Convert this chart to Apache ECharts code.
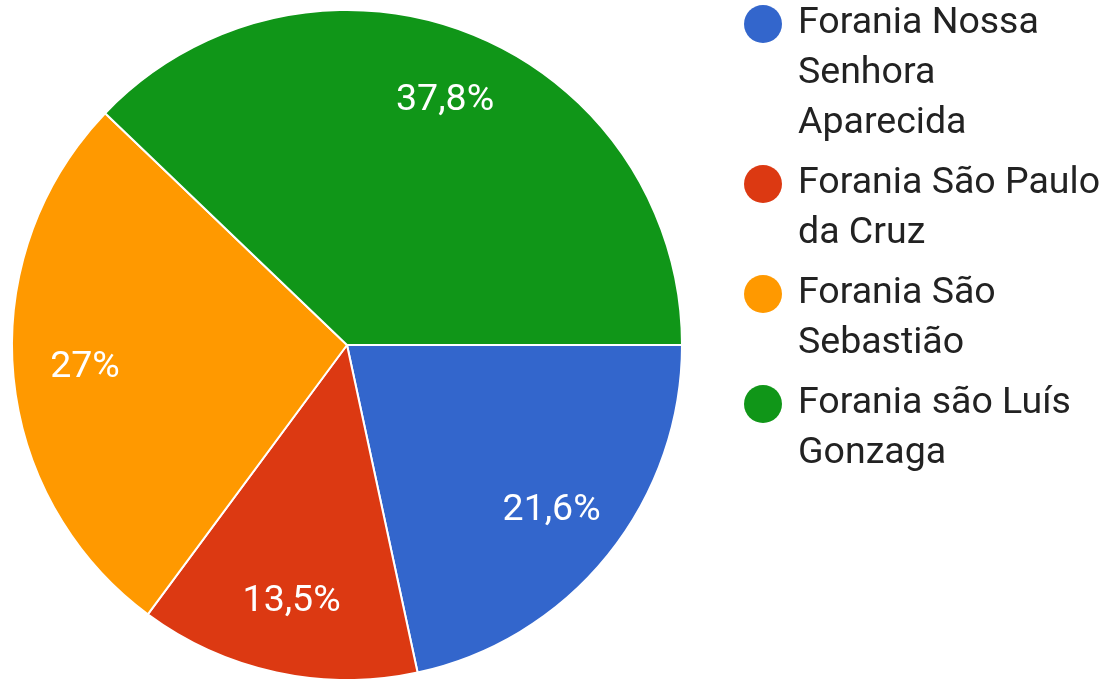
<!DOCTYPE html>
<html>
<head>
<meta charset="utf-8">
<script src="https://cdn.jsdelivr.net/npm/echarts@6/dist/echarts.min.js"></script>
<style>
html,body{margin:0;padding:0;background:#fff;}
#chart{width:1110px;height:679px;}
</style>
</head>
<body>
<div id="chart"></div>
<script>
var categories = ['Forania Nossa Senhora Aparecida', 'Forania São Paulo da Cruz', 'Forania São Sebastião', 'Forania são Luís Gonzaga'];
var percentValues = [21.6, 13.5, 27, 37.8];
var colors = ['#3366cc', '#dc3912', '#ff9900', '#109618'];

var LEGEND_FONT = 37.5;
var LABEL_FONT = 37.5;
var FONT = 'Roboto';

var ctx = document.createElement('canvas').getContext('2d');
ctx.font = LEGEND_FONT + 'px ' + FONT;
function wrap(text, maxW) {
  var words = text.split(' ');
  var lines = [];
  var cur = '';
  words.forEach(function (w) {
    var t = cur ? cur + ' ' + w : w;
    if (cur && ctx.measureText(t).width > maxW) { lines.push(cur); cur = w; }
    else { cur = t; }
  });
  if (cur) lines.push(cur);
  return lines;
}

var rich = {
  g: { width: 16, height: 50, lineHeight: 50 },
  s: { width: 54, height: 50, lineHeight: 50 },
  t: { fontSize: LEGEND_FONT, fontFamily: FONT, color: '#222222', lineHeight: 50 }
};
colors.forEach(function (c, i) {
  rich['d' + i] = { width: 38, height: 38, borderRadius: 19, backgroundColor: c, lineHeight: 50 };
});

var data = categories.map(function (n, i) { return { name: n, value: percentValues[i] }; });

var chart = echarts.init(document.getElementById('chart'), null, { renderer: 'canvas' });
chart.setOption({
  animation: false,
  backgroundColor: '#ffffff',
  color: colors,
  legend: {
    orient: 'vertical',
    left: 733,
    top: -6,
    itemWidth: 0,
    itemHeight: 0,
    itemGap: 10,
    selectedMode: false,
    data: categories,
    textStyle: { rich: rich, fontFamily: FONT, fontSize: LEGEND_FONT, color: '#222222' },
    formatter: function (name) {
      var idx = categories.indexOf(name);
      var lines = wrap(name, 306);
      return lines.map(function (l, i) {
        return (i === 0 ? '{d' + idx + '|}{g|}' : '{s|}') + '{t|' + l + '}';
      }).join('\n');
    }
  },
  series: [
    {
      type: 'pie',
      center: [347, 345],
      radius: [0, 335],
      startAngle: 0,
      clockwise: true,
      silent: true,
      label: { show: false },
      labelLine: { show: false },
      itemStyle: { borderColor: '#ffffff', borderWidth: 2 },
      data: data
    },
    {
      type: 'pie',
      center: [347, 345],
      radius: [185, 335],
      startAngle: 0,
      clockwise: true,
      silent: true,
      itemStyle: { color: 'transparent', borderWidth: 0 },
      labelLine: { show: false },
      label: {
        show: true,
        position: 'inside',
        color: '#ffffff',
        fontFamily: FONT,
        fontSize: LABEL_FONT,
        formatter: function (p) { return String(p.value).replace('.', ',') + '%'; }
      },
      data: data
    }
  ]
});
</script>
</body>
</html>
